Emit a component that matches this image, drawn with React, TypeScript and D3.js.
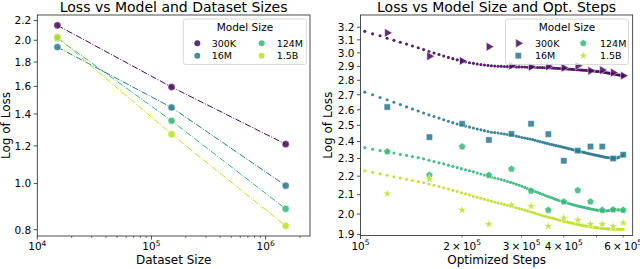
import React from "react";
import * as d3 from "d3";

// ---- shared ----
const modelSizes = ["300K", "16M", "124M", "1.5B"];
const palette = ["#46085c", "#2a788e", "#35b779", "#bddf26"];

// ---- left panel: loss vs dataset size ----
const datasetSizes = [1.5e4, 1.5e5, 1.5e6];
const dsLoss300K = [2.15, 1.595, 1.21];
const dsLoss16M = [1.935, 1.445, 0.99];
const dsLoss124M = [2.02, 1.355, 0.885];
const dsLoss1p5B = [2.03, 1.27, 0.815];
const leftYTicks = [0.8, 1.0, 1.2, 1.4, 1.6, 1.8, 2.0, 2.2];
const leftXMajor = [4, 5, 6];

// ---- right panel: loss vs optimisation steps ----
// evaluated checkpoints (steps in thousands)
const evalSteps = [120, 160, 200, 240, 280, 320, 360, 400, 440, 480, 520, 560, 600];
const evalLoss300K = [3.155, 2.975, 2.94, 3.047, 2.905, 2.897, 2.9, 2.89, 2.905, 2.868, 2.873, 2.855, 2.833];
const evalLoss16M = [2.618, 2.427, 2.51, 2.41, 2.447, 2.51, 2.445, 2.287, 2.346, 2.37, 2.37, 2.3, 2.322];
const evalLoss124M = [2.34, 2.206, 2.37, 2.206, 2.24, 2.12, 2.02, 2.063, 2.123, 2.063, 2.02, 2.022, 2.02];
const evalLoss1p5B = [2.105, 2.183, 2.02, 1.95, 2.046, 2.04, 1.94, 1.98, 1.97, 1.95, 1.95, 1.94, 1.956];

// smoothed curves (steps in thousands)
const curveSteps = [
  103.0, 108.6, 114.3, 119.9, 125.6, 131.2, 136.9, 142.5, 148.2, 153.8,
  159.5, 165.1, 170.8, 176.4, 182.1, 187.7, 193.4, 199.0, 204.7, 210.3,
  216.0, 221.6, 227.3, 232.9, 238.6, 244.2, 249.8, 255.5, 261.1, 266.8,
  272.4, 278.1, 283.7, 289.4, 295.0, 300.7, 306.3, 312.0, 317.6, 323.3,
  328.9, 334.6, 340.2, 345.9, 351.5, 357.2, 362.8, 368.5, 374.1, 379.8,
  385.4, 391.0, 396.7, 402.3, 408.0, 413.6, 419.3, 424.9, 430.6, 436.2,
  441.9, 447.5, 453.2, 458.8, 464.5, 470.1, 475.8, 481.4, 487.1, 492.7,
  498.4, 504.0, 509.7, 515.3, 520.9, 526.6, 532.2, 537.9, 543.5, 549.2,
  554.8, 560.5, 566.1, 571.8, 577.4, 583.1, 588.7, 594.4, 600.0,
];
const curve300K = [
  3.167, 3.147, 3.132, 3.113, 3.096, 3.081, 3.067, 3.053, 3.039, 3.025,
  3.011, 2.999, 2.988, 2.977, 2.966, 2.957, 2.948, 2.94, 2.933, 2.927,
  2.922, 2.917, 2.913, 2.91, 2.907, 2.905, 2.903, 2.901, 2.9, 2.899,
  2.898, 2.897, 2.897, 2.896, 2.896, 2.895, 2.895, 2.894, 2.894, 2.893,
  2.893, 2.892, 2.892, 2.891, 2.89, 2.89, 2.889, 2.888, 2.887, 2.886,
  2.885, 2.884, 2.883, 2.882, 2.881, 2.88, 2.879, 2.878, 2.877, 2.876,
  2.875, 2.874, 2.873, 2.872, 2.871, 2.87, 2.869, 2.868, 2.867, 2.866,
  2.864, 2.863, 2.862, 2.86, 2.859, 2.857, 2.855, 2.853, 2.851, 2.849,
  2.847, 2.845, 2.843, 2.841, 2.839, 2.837, 2.835, 2.833, 2.831,
];
const curve16M = [
  2.718, 2.7, 2.682, 2.666, 2.65, 2.634, 2.619, 2.605, 2.592, 2.579,
  2.567, 2.556, 2.546, 2.536, 2.526, 2.517, 2.509, 2.502, 2.495, 2.489,
  2.483, 2.477, 2.472, 2.467, 2.462, 2.457, 2.455, 2.452, 2.449, 2.446,
  2.443, 2.44, 2.437, 2.433, 2.429, 2.425, 2.422, 2.419, 2.416, 2.412,
  2.408, 2.404, 2.4, 2.396, 2.392, 2.389, 2.385, 2.382, 2.379, 2.376,
  2.373, 2.37, 2.367, 2.364, 2.361, 2.358, 2.355, 2.352, 2.349, 2.346,
  2.344, 2.341, 2.338, 2.336, 2.333, 2.331, 2.328, 2.326, 2.323, 2.321,
  2.319, 2.317, 2.315, 2.313, 2.311, 2.309, 2.307, 2.306, 2.304, 2.303,
  2.302, 2.302, 2.302, 2.303, 2.305, 2.308, 2.311, 2.315, 2.32,
];
const curve124M = [
  2.364, 2.354, 2.346, 2.34, 2.332, 2.324, 2.318, 2.311, 2.305, 2.298,
  2.29, 2.283, 2.275, 2.269, 2.262, 2.255, 2.248, 2.242, 2.236, 2.23,
  2.224, 2.218, 2.212, 2.206, 2.2, 2.194, 2.19, 2.186, 2.181, 2.176,
  2.171, 2.166, 2.161, 2.156, 2.15, 2.145, 2.139, 2.133, 2.128, 2.122,
  2.117, 2.112, 2.107, 2.102, 2.097, 2.092, 2.088, 2.084, 2.079, 2.075,
  2.071, 2.067, 2.063, 2.06, 2.057, 2.054, 2.051, 2.048, 2.045, 2.043,
  2.04, 2.038, 2.036, 2.034, 2.032, 2.03, 2.028, 2.026, 2.024, 2.022,
  2.021, 2.019, 2.018, 2.017, 2.016, 2.016, 2.016, 2.017, 2.018, 2.019,
  2.02, 2.021, 2.022, 2.022, 2.022, 2.021, 2.02, 2.019, 2.018,
];
const curve1p5B = [
  2.23, 2.221, 2.213, 2.205, 2.197, 2.19, 2.183, 2.176, 2.17, 2.164,
  2.157, 2.15, 2.144, 2.137, 2.13, 2.123, 2.117, 2.11, 2.104, 2.098,
  2.092, 2.086, 2.081, 2.076, 2.071, 2.066, 2.062, 2.057, 2.053, 2.048,
  2.044, 2.04, 2.036, 2.032, 2.028, 2.024, 2.02, 2.016, 2.012, 2.008,
  2.004, 2.0, 1.996, 1.993, 1.989, 1.986, 1.983, 1.98, 1.977, 1.974,
  1.971, 1.968, 1.966, 1.963, 1.961, 1.958, 1.956, 1.954, 1.952, 1.95,
  1.948, 1.946, 1.944, 1.942, 1.941, 1.939, 1.938, 1.936, 1.935, 1.934,
  1.933, 1.932, 1.931, 1.93, 1.929, 1.928, 1.928, 1.927, 1.927, 1.926,
  1.926, 1.926, 1.925, 1.925, 1.925, 1.925, 1.925, 1.925, 1.925,
];
const rightYTicks = [1.9, 2.0, 2.1, 2.2, 2.3, 2.4, 2.5, 2.6, 2.7, 2.8, 2.9, 3.0, 3.1, 3.2];
const rightXMinor = [2, 3, 4, 5, 6];
const rightXLabelled = [2, 3, 4, 6];

const dsLoss = [dsLoss300K, dsLoss16M, dsLoss124M, dsLoss1p5B];
const evalLoss = [evalLoss300K, evalLoss16M, evalLoss124M, evalLoss1p5B];
const curves = [curve300K, curve16M, curve124M, curve1p5B];

const FONT = "DejaVu Sans, sans-serif";

// marker paths for the right panel
const pentagon = (r: number) => {
  const pts = d3.range(5).map((k) => {
    const a = -Math.PI / 2 + (k * 2 * Math.PI) / 5;
    return [r * Math.cos(a), r * Math.sin(a)];
  });
  return "M" + pts.map((p) => p.join(",")).join("L") + "Z";
};
const markerPath = (i: number) => {
  if (i === 0) return d3.symbol(d3.symbolTriangle, 34)()!;
  if (i === 1) return d3.symbol(d3.symbolSquare, 40)()!;
  if (i === 2) return pentagon(3.8);
  return d3.symbol(d3.symbolStar, 26)()!;
};
const markerRotate = (i: number) => (i === 0 ? 90 : 0);

const Sci = ({ x, y, mant, exp }: { x: number; y: number; mant?: number; exp: number }) => (
  <text x={x} y={y} textAnchor="middle" fontSize={10.5} fontFamily={FONT}>
    {mant !== undefined ? `${mant}\u2009\u00d7\u200910` : "10"}
    <tspan fontSize={7.5} dy={-4.5}>
      {exp}
    </tspan>
  </text>
);

const Legend = ({ x0, y0, x1, y1, colX, textX, marker }: {
  x0: number; y0: number; x1: number; y1: number; colX: number[]; textX: number[];
  marker: (i: number) => React.ReactNode;
}) => {
  const rows = [43.3, 55.7];
  return (
    <g>
      <rect x={x0} y={y0} width={x1 - x0} height={y1 - y0} rx={2.5} fill="#fff" fillOpacity={0.8}
        stroke="#d0d0d0" strokeWidth={0.8} />
      <text x={(x0 + x1) / 2} y={y0 + 12.3} textAnchor="middle" fontSize={10.5} fontFamily={FONT}>
        Model Size
      </text>
      {modelSizes.map((m, i) => {
        const col = i < 2 ? 0 : 1;
        const row = i % 2;
        return (
          <g key={m}>
            <g transform={`translate(${colX[col]},${rows[row]})`}>{marker(i)}</g>
            <text x={textX[col]} y={rows[row] + 3.3} fontSize={9.5} fontFamily={FONT}>
              {m}
            </text>
          </g>
        );
      })}
    </g>
  );
};

const LeftPanel = () => {
  const L = 37.3, R = 310, T = 15, B = 236;
  const x = d3.scaleLog().domain([1e4, 2.45e6]).range([L, R]);
  const y = d3.scaleLog().domain([0.776, 2.26]).range([B, T]);
  const line = d3
    .line<number>()
    .x((_, i) => x(datasetSizes[i]))
    .y((d) => y(d));
  const minors: number[] = [];
  [1e4, 1e5, 1e6].forEach((base) =>
    d3.range(2, 10).forEach((m) => {
      if (m * base <= 2.45e6) minors.push(m * base);
    })
  );
  return (
    <g>
      {dsLoss.map((s, i) => (
        <path key={"l" + i} d={line(s)!} fill="none" stroke={palette[i]} strokeWidth={1}
          strokeDasharray="6.4,1.6,1,1.6" />
      ))}
      {dsLoss.map((s, i) =>
        s.map((v, j) => (
          <circle key={`c${i}-${j}`} cx={x(datasetSizes[j])} cy={y(v)} r={3.6} fill={palette[i]}
            fillOpacity={0.85} stroke="#fff" strokeWidth={0.5} />
        ))
      )}
      <rect x={L} y={T} width={R - L} height={B - T} fill="none" stroke="#222" strokeWidth={0.8} />
      {leftXMajor.map((e) => (
        <g key={"xm" + e}>
          <line x1={x(10 ** e)} x2={x(10 ** e)} y1={B} y2={B + 3.5} stroke="#222" strokeWidth={0.8} />
          <Sci x={x(10 ** e)} y={B + 14} exp={e} />
        </g>
      ))}
      {minors.map((v) => (
        <line key={"xn" + v} x1={x(v)} x2={x(v)} y1={B} y2={B + 2} stroke="#222" strokeWidth={0.6} />
      ))}
      {leftYTicks.map((v) => (
        <g key={"y" + v}>
          <line x1={L - 3.5} x2={L} y1={y(v)} y2={y(v)} stroke="#222" strokeWidth={0.8} />
          <text x={L - 6} y={y(v) + 3.8} textAnchor="end" fontSize={10.5} fontFamily={FONT}>
            {v.toFixed(1)}
          </text>
        </g>
      ))}
      <text x={(L + R) / 2} y={11.5} textAnchor="middle" fontSize={14} fontFamily={FONT}>
        Loss vs Model and Dataset Sizes
      </text>
      <text x={(L + R) / 2} y={264} textAnchor="middle" fontSize={12} fontFamily={FONT}>
        Dataset Size
      </text>
      <text transform={`translate(9.5,${(T + B) / 2}) rotate(-90)`} textAnchor="middle" fontSize={12}
        fontFamily={FONT}>
        Log of Loss
      </text>
      <Legend x0={183.3} y0={19} x1={306.5} y1={64.5} colX={[197.3, 261.7]} textX={[211.7, 276.7]}
        marker={(i) => <circle r={3} fill={palette[i]} fillOpacity={0.85} />} />
    </g>
  );
};

const RightPanel = () => {
  const L = 360.5, R = 632.7, T = 15, B = 235.5;
  const x = d3.scaleLog().domain([1e5, 6.4e5]).range([L, R]);
  const y = d3.scaleLog().domain([1.895, 3.3]).range([B, T]);
  return (
    <g>
      {curves.map((s, i) =>
        s.map((v, j) => (
          <circle key={`d${i}-${j}`} cx={x(curveSteps[j] * 1000)} cy={y(v)} r={1.55} fill={palette[i]}
            fillOpacity={0.9} />
        ))
      )}
      {evalLoss.map((s, i) =>
        s.map((v, j) => (
          <path key={`m${i}-${j}`} d={markerPath(i)}
            transform={`translate(${x(evalSteps[j] * 1000)},${y(v)}) rotate(${markerRotate(i)})`}
            fill={palette[i]} fillOpacity={0.85} stroke="#fff" strokeWidth={0.5} />
        ))
      )}
      <rect x={L} y={T} width={R - L} height={B - T} fill="none" stroke="#222" strokeWidth={0.8} />
      <line x1={x(1e5)} x2={x(1e5)} y1={B} y2={B + 3.5} stroke="#222" strokeWidth={0.8} />
      <Sci x={x(1e5)} y={B + 14} exp={5} />
      {rightXMinor.map((m) => (
        <line key={"rn" + m} x1={x(m * 1e5)} x2={x(m * 1e5)} y1={B} y2={B + 2} stroke="#222"
          strokeWidth={0.6} />
      ))}
      {rightXLabelled.map((m) => (
        <Sci key={"rl" + m} x={x(m * 1e5)} y={B + 14} mant={m} exp={5} />
      ))}
      {rightYTicks.map((v) => (
        <g key={"ry" + v}>
          <line x1={L - 3.5} x2={L} y1={y(v)} y2={y(v)} stroke="#222" strokeWidth={0.8} />
          <text x={L - 6} y={y(v) + 3.8} textAnchor="end" fontSize={10.5} fontFamily={FONT}>
            {v.toFixed(1)}
          </text>
        </g>
      ))}
      <text x={(L + R) / 2} y={11.5} textAnchor="middle" fontSize={14} fontFamily={FONT}>
        Loss vs Model Size and Opt. Steps
      </text>
      <text x={(L + R) / 2} y={264} textAnchor="middle" fontSize={12} fontFamily={FONT}>
        Optimized Steps
      </text>
      <text transform={`translate(331.7,${(T + B) / 2}) rotate(-90)`} textAnchor="middle" fontSize={12}
        fontFamily={FONT}>
        Log of Loss
      </text>
      <Legend x0={505.5} y0={19} x1={628.5} y1={64.5} colX={[518.3, 583.3]} textX={[535, 600]}
        marker={(i) => (
          <path d={markerPath(i)} transform={`rotate(${markerRotate(i)})`} fill={palette[i]}
            fillOpacity={0.85} stroke="#fff" strokeWidth={0.5} />
        )} />
    </g>
  );
};

export default function App() {
  return (
    <svg width={640} height={269} style={{ position: "absolute", left: 0, top: 0, background: "#fff" }}>
      <rect width={640} height={269} fill="#fff" />
      <LeftPanel />
      <RightPanel />
    </svg>
  );
}
